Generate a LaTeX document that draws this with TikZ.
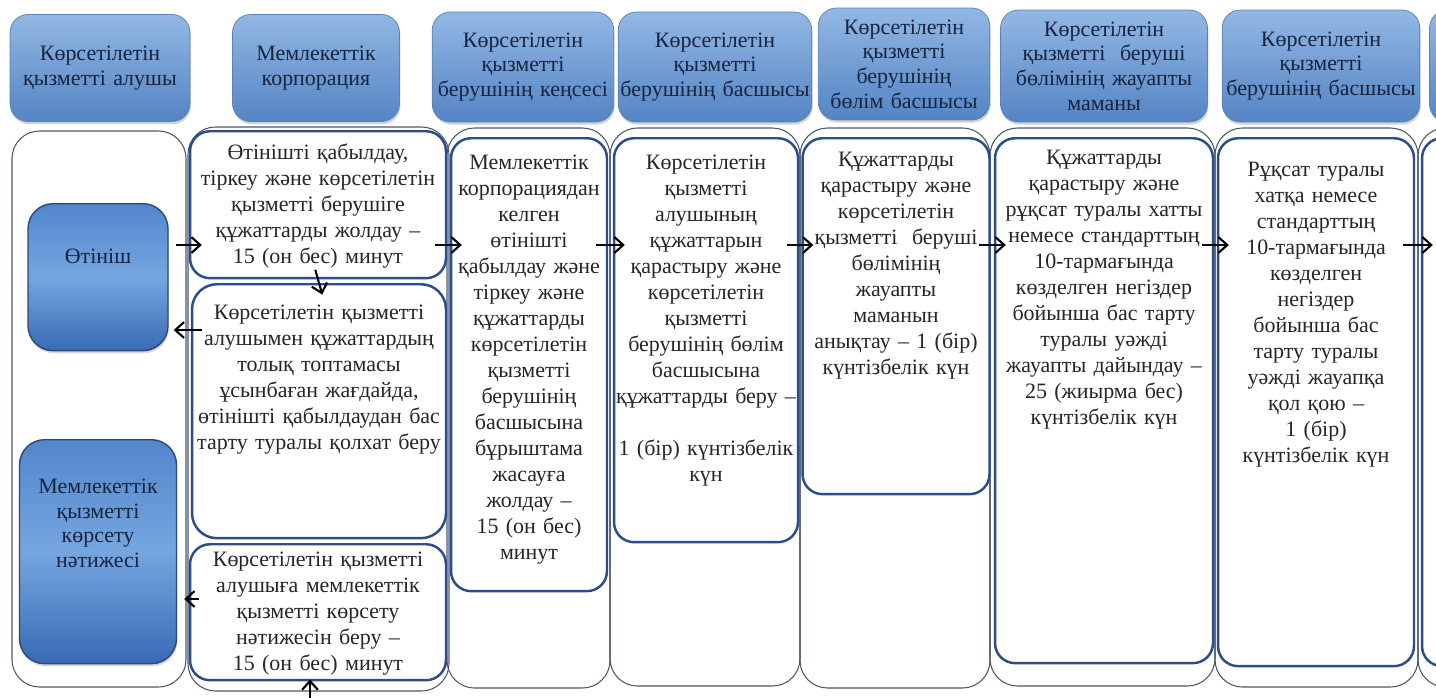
\documentclass[tikz,border=0pt]{standalone}
\usepackage{fontspec}
\setmainfont{Liberation Serif}
\usetikzlibrary{arrows.meta}
\usetikzlibrary{shadows}
\definecolor{hdrhi}{RGB}{146,184,228}
\definecolor{hdrlo}{RGB}{84,132,196}
\definecolor{hdrline}{RGB}{90,128,180}
\definecolor{hdrtext}{RGB}{24,36,62}
\definecolor{acttop}{RGB}{82,134,204}
\definecolor{actmid}{RGB}{118,166,224}
\definecolor{actbot}{RGB}{56,106,180}
\definecolor{actline}{RGB}{44,72,118}
\definecolor{boxline}{RGB}{44,76,138}
\definecolor{laneline}{RGB}{74,88,106}
\newcommand{\bodyfont}{\fontsize{12.5}{14.8}\selectfont}
\newcommand{\headfont}{\fontsize{12.5}{14}\selectfont}

\begin{document}
\begin{tikzpicture}[x=0.02cm, y=-0.02cm, >={Straight Barb[length=5pt,width=9pt,line width=1.2pt]},
    head/.style={rounded corners=0.36cm, draw=hdrline, top color=hdrhi, bottom color=hdrlo, drop shadow={opacity=0.35, shadow xshift=0.5pt, shadow yshift=-1.5pt}, text=hdrtext, align=center, font=\headfont, inner sep=1pt},
    flow/.style={->, line width=1.2pt, shorten <=-0.24cm, shorten >=-0.24cm}]
    \tikzstyle{box}=[draw=boxline, line width=1.4pt, rounded corners=0.4cm, fill=white, anchor=north, inner sep=0pt, align=center, font=\bodyfont, text=black!85]
    \tikzstyle{actor}=[draw=actline, line width=0.8pt, rounded corners=0.5cm, top color=acttop, bottom color=actbot, middle color=actmid, drop shadow={opacity=0.3, shadow xshift=0.5pt, shadow yshift=-1.5pt}, anchor=north, inner sep=0pt, align=center, font=\headfont, text=hdrtext]
    \tikzstyle{lane}=[draw=laneline, line width=0.6pt, rounded corners=0.55cm]

    \useasboundingbox (0,0) rectangle (1436,697);
    \clip (0,0) rectangle (1436,697);
    \fill[white] (0,0) rectangle (1436,697);

    % Draw headers
    \node[head, minimum width=3.6cm, minimum height=2.14cm, text width=3.5cm] (head1) at (100,68) {Көрсетілетін\\ қызметті алушы};
    \node[head, minimum width=3.34cm, minimum height=2.14cm, text width=3.2cm] (head2) at (316,68) {Мемлекеттік\\ корпорация};
    \node[head, minimum width=3.6cm, minimum height=2.2cm, text width=3.56cm] (head3) at (523,67) {Көрсетілетін\\ қызметті\\ берушінің кеңсесі};
    \node[head, minimum width=3.86cm, minimum height=2.2cm, text width=3.8cm] (head4) at (715,67) {Көрсетілетін\\ қызметті\\ берушінің басшысы};
    \node[head, minimum width=3.42cm, minimum height=2.24cm, text width=3.36cm] (head5) at (904,64) {Көрсетілетін\\ қызметті\\ берушінің\\ бөлім басшысы};
    \node[head, minimum width=4.14cm, minimum height=2.24cm, text width=4.04cm] (head6) at (1104,66) {Көрсетілетін\\ қызметті \ беруші\\ бөлімінің жауапты\\ маманы};
    \node[head, minimum width=3.94cm, minimum height=2.24cm, text width=3.88cm] (head7) at (1321,66) {Көрсетілетін\\ қызметті\\ берушінің басшысы};
    \node[head, minimum width=3.94cm, minimum height=2.24cm] (head8) at (1528,66) {};

    % Draw lanes
    \draw[lane] (12,131) rectangle (186,687);
    \draw[lane] (188,127) rectangle (449,691);
    \draw[lane] (447,128) rectangle (610,688);
    \draw[lane] (610,128) rectangle (800,686);
    \draw[lane] (800,128) rectangle (990,688);
    \draw[lane] (990,128) rectangle (1215,686);
    \draw[lane] (1215,128) rectangle (1418,687);
    \draw[lane] (1418,128) rectangle (1620,687);

    % Draw service receiver
    \node[actor, text width=2.8cm, text height=1.2cm, text depth=1.74cm] (otinish) at (98,203) {Өтініш};
    \node[actor, text width=3.14cm, text height=1.08cm, text depth=3.4cm] (natizhe) at (98,439) {Мемлекеттік\\ қызметті\\ көрсету\\ нәтижесі};

    % Draw steps
    \node[box, text width=5.12cm, text height=0.56cm, text depth=2.38cm] (qabyldau) at (318,130) {Өтінішті қабылдау,\\ тіркеу және көрсетілетін\\ қызметті берушіге\\ құжаттарды жолдау –\\ 15 (он бес) минут};
    \node[box, rounded corners=0.5cm, text width=5.08cm, text height=0.7cm, text depth=4.38cm] (qaytaru) at (319,283) {Көрсетілетін қызметті\\ алушымен құжаттардың\\ толық топтамасы\\ ұсынбаған жағдайда,\\ өтінішті қабылдаудан бас\\ тарту туралы қолхат беру};
    \node[box, text width=5.12cm, text height=0.44cm, text depth=2.28cm] (beru) at (318,543) {Көрсетілетін қызметті\\ алушыға мемлекеттік\\ қызметті көрсету\\ нәтижесін беру –\\ 15 (он бес) минут};
    \node[box, text width=3.12cm, text height=0.62cm, text depth=8.44cm] (kense) at (529,137) {Мемлекеттік\\ корпорациядан\\ келген\\ өтінішті\\ қабылдау және\\ тіркеу және\\ құжаттарды\\ көрсетілетін\\ қызметті\\ берушінің\\ басшысына\\ бұрыштама\\ жасауға\\ жолдау –\\ 15 (он бес)\\ минут};
    \node[box, text width=3.68cm, text height=0.62cm, text depth=7.46cm] (basshy) at (706,137) {Көрсетілетін\\ қызметті\\ алушының\\ құжаттарын\\ қарастыру және\\ көрсетілетін\\ қызметті\\ берушінің бөлім\\ басшысына\\ құжаттарды беру –\\[14.8pt] 1 (бір) күнтізбелік\\ күн};
    \node[box, text width=3.74cm, text height=0.56cm, text depth=6.56cm] (bolim) at (896,137) {Құжаттарды\\ қарастыру және\\ көрсетілетін\\ қызметті \ беруші\\ бөлімінің\\ жауапты\\ маманын\\ анықтау – 1 (бір)\\ күнтізбелік күн};
    \node[box, text width=4.36cm, text height=0.52cm, text depth=9.98cm] (maman) at (1104,137) {Құжаттарды\\ қарастыру және\\ рұқсат туралы хатты\\ немесе стандарттың\\ 10-тармағында\\ көзделген негіздер\\ бойынша бас тарту\\ туралы уәжді\\ жауапты дайындау –\\ 25 (жиырма бес)\\ күнтізбелік күн};
    \node[box, text width=3.92cm, text height=0.76cm, text depth=9.8cm] (basshy2) at (1316,137) {Рұқсат туралы\\ хатқа немесе\\ стандарттың\\ 10-тармағында\\ көзделген\\ негіздер\\ бойынша бас\\ тарту туралы\\ уәжді жауапқа\\ қол қою –\\ 1 (бір)\\ күнтізбелік күн};
    \node[box, text width=3.96cm, text height=0.76cm, text depth=9.8cm] (kelesi) at (1521,137) {};

    % Draw arrows
    \coordinate (row) at (0,245);
    \coordinate (row2) at (0,330);
    \coordinate (row3) at (0,599);
    \coordinate (vnizu) at (310,715);
    \path[->, line width=1.2pt, shorten <=0.14cm, shorten >=-0.26cm] (otinish.east |- row) edge (qabyldau.west |- row);
    \path[->, line width=1.2pt, shorten <=-0.2cm, shorten >=-0.24cm] (qabyldau.south) edge (qaytaru.north);
    \path[->, line width=1.2pt, shorten <=-0.22cm, shorten >=0.1cm] (qaytaru.west |- row2) edge (otinish.east |- row2);
    \path[->, line width=1.2pt, shorten <=-0.2cm, shorten >=0.14cm] (beru.west |- row3) edge (natizhe.east |- row3);
    \path[->, line width=1.2pt, shorten >=-0.04cm] (vnizu) edge (vnizu |- beru.south);
    \path[flow] (qabyldau.east |- row) edge (kense.west |- row);
    \path[flow] (kense.east |- row) edge (basshy.west |- row);
    \path[flow] (basshy.east |- row) edge (bolim.west |- row);
    \path[flow] (bolim.east |- row) edge (maman.west |- row);
    \path[flow] (maman.east |- row) edge (basshy2.west |- row);
    \path[flow] (basshy2.east |- row) edge (kelesi.west |- row);

\end{tikzpicture}
\end{document}
